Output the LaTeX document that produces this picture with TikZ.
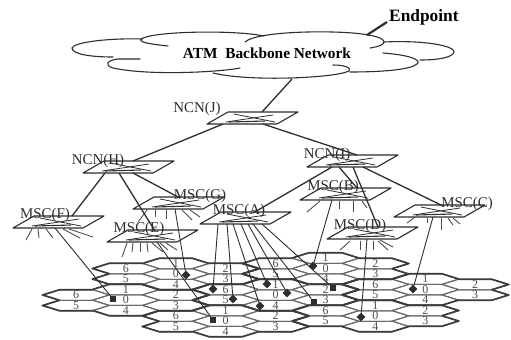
\documentclass[tikz,border=0pt]{standalone}
\usepackage{fontspec}
\setmainfont{Liberation Serif}
\usetikzlibrary{shapes.geometric}
\definecolor{ink}{HTML}{2E2E2E}
\definecolor{hexthin}{HTML}{6A6A6A}
\definecolor{hexthick}{HTML}{3C3C3C}
\tikzset{
  swshape/.style={draw=ink,fill=white,line width=1.1pt,line join=round},
  swcross/.style={draw=ink,line width=0.8pt},
  link/.style={draw=ink,line width=1.3pt},
  drop/.style={draw=ink,line width=0.9pt},
  ray/.style={draw=ink!85,line width=0.9pt},
  cloudline/.style={draw=ink,line width=1.1pt,line cap=round},
  lbl/.style={inner sep=0pt,yshift=-1.5bp,text=ink,font=\fontsize{15}{15}\selectfont},
  digit/.style={inner sep=0pt,text=ink!85,font=\fontsize{12}{12}\selectfont},
  bold/.style={inner sep=0pt,text=black,font=\fontsize{15.4}{16}\selectfont\bfseries},
  dmark/.style={diamond,fill=ink,inner sep=0pt,minimum size=9pt},
  smark/.style={rectangle,fill=ink,inner sep=0pt,minimum size=6.5pt},
}
\newcommand\switchshape[3]{%
  \begin{scope}[shift={(#2,#3)}]
    \coordinate (#1) at (45,-6);
    \path[swshape] (0,0)--(21,-12)--(91,-12)--(70,0)--cycle;
    \path[swcross] (27,-10)--(68,-2);
    \path[swcross] (19,-2)--(66,-9);
    \path[swcross,line width=1.1pt] (22,-2)--(58,-3);
  \end{scope}}
\newcommand\celllist{0/3/6,0/4/5,
 1/0/6,1/1/5,1/2/1,1/3/0,1/4/4,
 2/0/1,2/1/0,2/2/4,2/3/2,2/4/3,2/5/6,2/6/5,
 3/0/2,3/1/3,3/2/6,3/3/5,3/4/1,3/5/0,3/6/4,
 4/0/6,4/1/5,4/2/1,4/3/0,4/4/4,4/5/2,4/6/3,
 5/-1/1,5/0/0,5/1/4,5/2/2,5/3/3,5/4/6,5/5/5,
 6/0/2,6/1/3,6/2/6,6/3/5,6/4/1,6/5/0,6/6/4,
 7/1/1,7/2/0,7/3/4,7/4/2,7/5/3,
 8/2/2,8/3/3}
\begin{document}
\begin{tikzpicture}[x=1bp,y=-1bp]
\useasboundingbox (0,0) rectangle (511,339);
\fill[white] (0,0) rectangle (511,339);

% hexagon cells
\def\ha{16.5}\def\hb{33.4}\def\hh{5.25}
\foreach \c/\r/\d in \celllist {
  \pgfmathsetmacro\cx{76+49.9*\c}
  \pgfmathsetmacro\cy{263.5+5*mod(\c,2)+10.5*\r}
  \begin{scope}[shift={(\cx,\cy)}]
    \draw[hexthin,line width=1pt] (-\hb,0)--(-\ha,-\hh)--(\ha,-\hh)--(\hb,0)--(\ha,\hh)--(-\ha,\hh)--cycle;
  \end{scope}
}
\foreach \c/\r/\d in \celllist {
  \pgfmathsetmacro\cx{76+49.9*\c}
  \pgfmathsetmacro\cy{263.5+5*mod(\c,2)+10.5*\r}
  \begin{scope}[shift={(\cx,\cy)}]
    \tikzset{every path/.style={draw=hexthick,line width=1.7pt,line join=round}}
    \ifcase\d\relax
    \or \path (-\hb,0)--(-\ha,-\hh)--(\ha,-\hh)--(\hb,0);
    \or \path (-\ha,-\hh)--(\ha,-\hh)--(\hb,0)--(\ha,\hh);
    \or \path (\ha,-\hh)--(\hb,0)--(\ha,\hh)--(-\ha,\hh);
    \or \path (-\hb,0)--(-\ha,\hh)--(\ha,\hh)--(\hb,0);
    \or \path (-\ha,-\hh)--(-\hb,0)--(-\ha,\hh)--(\ha,\hh);
    \or \path (\ha,-\hh)--(-\ha,-\hh)--(-\hb,0)--(-\ha,\hh);
    \fi
  \end{scope}
}
\foreach \c/\r/\d in \celllist {
  \pgfmathsetmacro\cx{76+49.9*\c}
  \pgfmathsetmacro\cy{263.5+5*mod(\c,2)+10.5*\r}
  \node[digit,name=cell-\c-\r] at (\cx,\cy) {\d};
}

% cloud
\draw[cloudline] (168,46) .. controls (150,44) and (135,42) .. (143,38) .. controls (160,31) and (235,30) .. (264,36);
\draw[cloudline] (245,42) .. controls (258,30) and (345,30) .. (368,35) .. controls (388,38) and (390,45) .. (370,48);
\draw[cloudline] (384,42) .. controls (425,40) and (455,46) .. (454,52) .. controls (453,57) and (440,60) .. (420,60);
\draw[cloudline] (383,53) .. controls (410,55) and (422,60) .. (417,64) .. controls (410,70) and (380,72) .. (350,72);
\draw[cloudline] (333,65) .. controls (345,65) and (352,68) .. (349,71) .. controls (335,78) and (250,82) .. (213,73);
\draw[cloudline] (240,68) .. controls (220,72) and (150,76) .. (113,68) .. controls (103,65) and (108,60) .. (118,59) -- (140,59);
\draw[cloudline] (142,39) .. controls (110,38) and (74,42) .. (72,48) .. controls (72,54) and (90,57) .. (113,57);
\node[bold,name=atm] at (267,53) {ATM\ \ Backbone Network};
\coordinate (cloudtop) at (367,35);
\coordinate (cloudbottom) at (292,79);
\node[bold,name=endpoint,anchor=west,font=\fontsize{17.4}{17.4}\selectfont\bfseries] at (389,17) {Endpoint};
\coordinate (endtip) at (387,22);
\draw[ink,line width=2.2pt] (cloudtop)--(endtip);

% rays beneath MSC switches
\foreach \a/\b/\e/\f in {32/229/26/240,38/229/39/238,46/229/53/238,63/229/80/238,69/229/93/237,
  127/243/122/257,133/243/132/252,140/243/140/252,147/243/148/252,152/243/163/252,160/243/168/250,166/243/177/250,
  147/210/138/222,155/210/155/217,166/210/166/219,182/210/192/220,190/210/200/217,
  320/201/307/212,339/201/339/209,353/201/353/212,362/201/367/208,
  415/217/407/223,427/218/427/223,441/218/441/230,453/218/460/224,448/218/453/225,
  350/241/340/250,360/241/360/250,373/241/373/250,378/241/388/250,380/240/393/247}
  {\path[ray] (\a,\b)--(\e,\f);}

% switches
\switchshape{J}{207}{124}
\switchshape{H}{83}{173}
\switchshape{I}{307}{167}
\switchshape{G}{133}{209}
\switchshape{F}{13}{228}
\switchshape{E}{107}{242}
\switchshape{A}{200}{224}
\switchshape{B}{300}{200}
\switchshape{C}{394}{217}
\switchshape{D}{327}{239}

% connector ends
\coordinate (Jt) at (262,112);
\coordinate (Jl) at (223,124);
\coordinate (Jr) at (263,124);
\coordinate (Ht) at (133,161);
\coordinate (Hb1) at (105,173);
\coordinate (Hb2) at (119,173);
\coordinate (Hb3) at (133,173);
\coordinate (It) at (357,155);
\coordinate (Ib1) at (332,167);
\coordinate (Ib2) at (339,167);
\coordinate (Ib3) at (353,167);
\coordinate (Ib4) at (363,167);
\coordinate (Ft) at (72,216);
\coordinate (Et) at (155,231);
\coordinate (Gt) at (180,198);
\coordinate (At) at (253,213);
\coordinate (Bt) at (357,188);
\coordinate (Ct) at (443,206);
\coordinate (Dt) at (378,227);
\coordinate (Fb) at (55,228);
\coordinate (Eb) at (157,242);
\coordinate (Gb) at (175,209);
\coordinate (Bb) at (332,200);
\coordinate (Cb) at (433,217);
\coordinate (Db) at (367,239);
\coordinate (Ab1) at (218,224);
\coordinate (Ab2) at (227,224);
\coordinate (Ab3) at (233,224);
\coordinate (Ab4) at (241,224);
\coordinate (Ab5) at (248,224);
\coordinate (Ab6) at (253,224);
\coordinate (Ab7) at (262,224);

% markers
\node[smark,name=mF] at (113,299) {};
\node[smark,name=mE] at (213,320) {};
\node[dmark,name=mG] at (186,275) {};
\node[dmark,name=mA1] at (213,289) {};
\node[dmark,name=mA2] at (233,299) {};
\node[dmark,name=mA3] at (260,306) {};
\node[dmark,name=mA4] at (267,284) {};
\node[dmark,name=mA5] at (287,293) {};
\node[smark,name=mA6] at (314,302) {};
\node[smark,name=mA7] at (333,288) {};
\node[dmark,name=mB] at (313,266) {};
\node[dmark,name=mC] at (413,289) {};
\node[dmark,name=mD] at (361,317) {};

% connectors
\path[link] (cloudbottom)--(Jt);
\path[link] (Jl)--(Ht);
\path[link] (Jr)--(It);
\path[link] (Hb1)--(Ft);
\path[link] (Hb2)--(Et);
\path[link] (Hb3)--(Gt);
\path[link] (Ib1)--(At);
\path[link] (Ib2)--(Bt);
\path[link] (Ib3)--(Dt);
\path[link] (Ib4)--(Ct);
\path[drop] (Fb)--(mF);
\path[drop] (Eb)--(mE);
\path[drop] (Gb)--(mG);
\path[drop] (Ab1)--(mA1);
\path[drop] (Ab2)--(mA2);
\path[drop] (Ab3)--(mA3);
\path[drop] (Ab4)--(mA4);
\path[drop] (Ab5)--(mA5);
\path[drop] (Ab6)--(mA6);
\path[drop] (Ab7)--(mA7);
\path[drop] (Bb)--(mB);
\path[drop] (Cb)--(mC);
\path[drop] (Db)--(mD);

% labels
\node[lbl,name=tJ] at (197,107) {NCN(J)};
\node[lbl,name=tH] at (98,159) {NCN(H)};
\node[lbl,name=tI] at (327,153) {NCN(I)};
\node[lbl,name=tG] at (200,194) {MSC(G)};
\node[lbl,name=tF] at (45,213) {MSC(F)};
\node[lbl,name=tE] at (139,227) {MSC(E)};
\node[lbl,name=tA] at (239,209) {MSC(A)};
\node[lbl,name=tB] at (333,185) {MSC(B)};
\node[lbl,name=tC] at (467,202) {MSC(C)};
\node[lbl,name=tD] at (360,224) {MSC(D)};
\end{tikzpicture}
\end{document}
